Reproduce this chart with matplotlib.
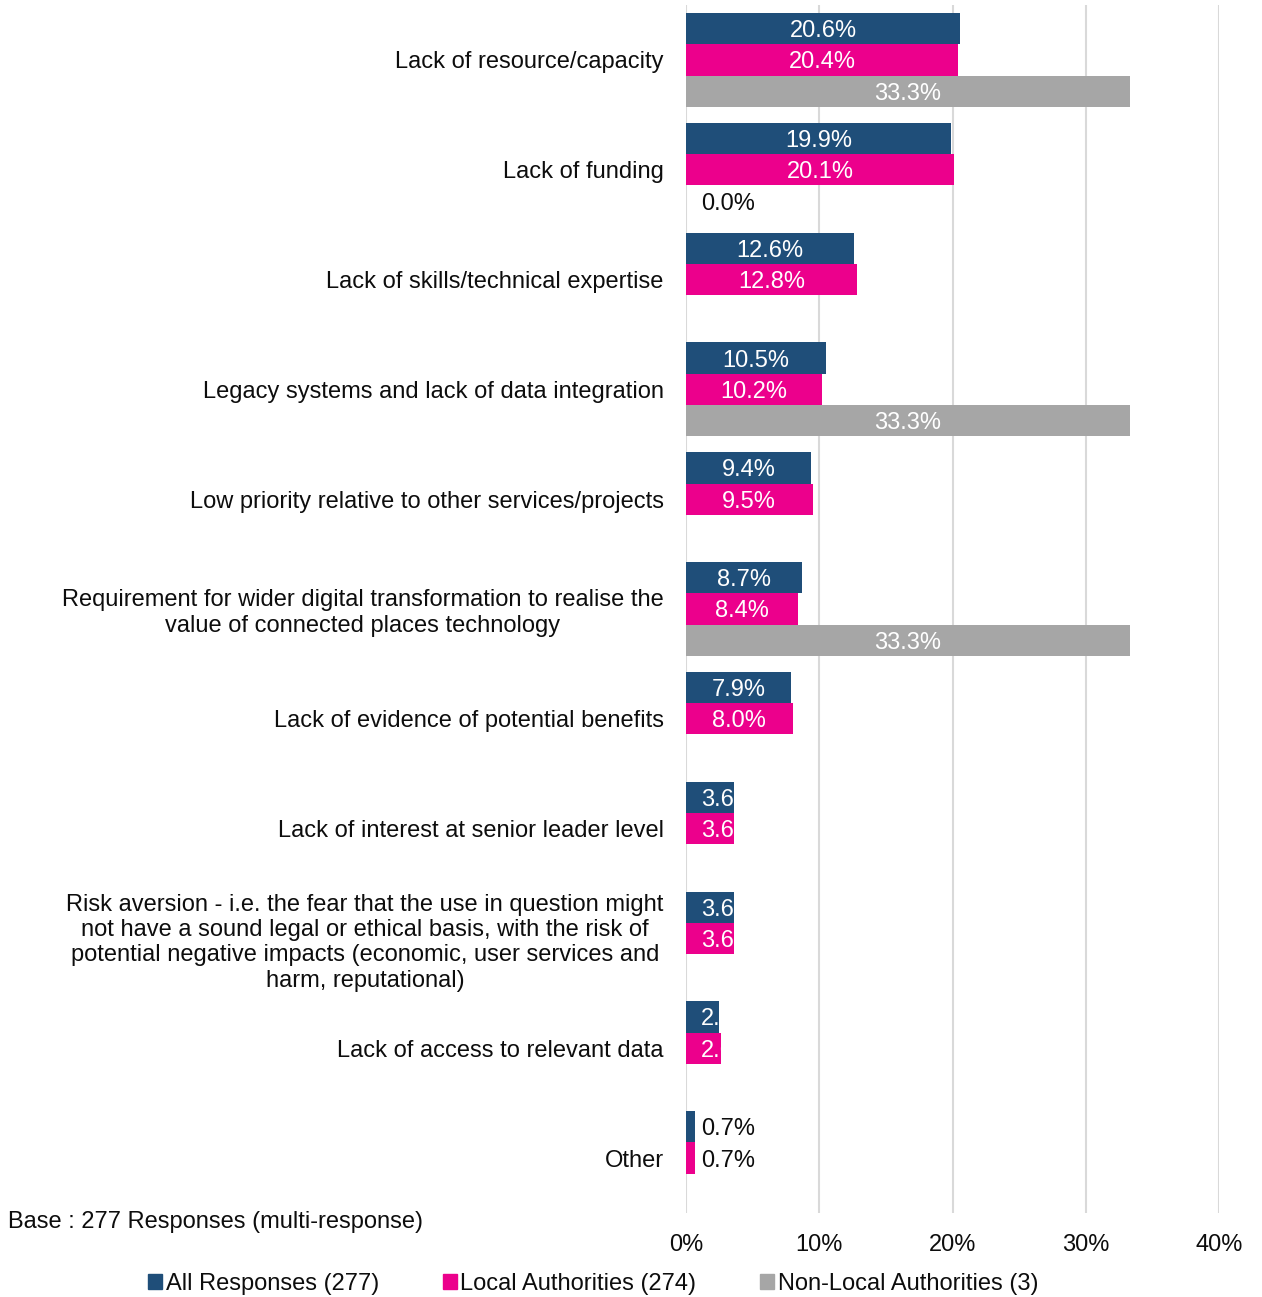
import numpy as np
import matplotlib.pyplot as plt
from matplotlib.patches import Patch

plt.rcParams['font.family'] = ['Liberation Sans', 'DejaVu Sans']

categories = [
    "Lack of resource/capacity",
    "Lack of funding",
    "Lack of skills/technical expertise",
    "Legacy systems and lack of data integration",
    "Low priority relative to other services/projects",
    "Requirement for wider digital transformation to realise the\nvalue of connected places technology",
    "Lack of evidence of potential benefits",
    "Lack of interest at senior leader level",
    "Risk aversion - i.e. the fear that the use in question might\nnot have a sound legal or ethical basis, with the risk of\npotential negative impacts (economic, user services and\nharm, reputational)",
    "Lack of access to relevant data",
    "Other",
]
all_resp = [20.6, 19.9, 12.6, 10.5, 9.4, 8.7, 7.9, 3.6, 3.6, 2.5, 0.7]
local_auth = [20.4, 20.1, 12.8, 10.2, 9.5, 8.4, 8.0, 3.6, 3.6, 2.6, 0.7]
non_local = [33.3, 0.0, np.nan, 33.3, np.nan, 33.3, np.nan, np.nan, np.nan, np.nan, np.nan]

series_names = ["All Responses (277)", "Local Authorities (274)", "Non-Local Authorities (3)"]
colors = ["#1F4E79", "#EC008C", "#A6A6A6"]
xticks = [0, 10, 20, 30, 40]
txt = '#0d0d0d'
fs = 17

fig = plt.figure(figsize=(12.62, 12.97), dpi=100)
ax = fig.add_axes([686 / 1262, 1 - 1213 / 1297, (1219 - 686) / 1262, (1213 - 5) / 1297])

y = np.arange(len(categories))
h = 0.285
for i, (vals, col) in enumerate(zip([all_resp, local_auth, non_local], colors)):
    pos = y + (i - 1) * h
    bars = ax.barh(pos, vals, height=h, color=col, zorder=2)
    for bar, v, p in zip(bars, vals, pos):
        if np.isnan(v):
            continue
        lbl = f"{v:.1f}%"
        if v >= 5:
            ax.text(v / 2, p, lbl, ha='center', va='center_baseline', color='white',
                    fontsize=fs, zorder=3)
        elif v >= 1:
            # short bars: label starts near the axis and is cut at the bar end
            t = ax.text(1.1, p, lbl, ha='left', va='center_baseline', color='white',
                        fontsize=fs, zorder=3)
            t.set_clip_path(bar)
        else:
            ax.text(1.1, p, lbl, ha='left', va='center_baseline', color=txt,
                    fontsize=fs, zorder=3)

ax.set_ylim(len(categories) - 0.5, -0.5)
ax.set_xlim(0, 40)
ax.set_yticks(y)
ax.set_yticklabels(categories, fontsize=fs, color=txt, multialignment='center')
ax.set_xticks(xticks)
ax.set_xticklabels([f"{t}%" for t in xticks], fontsize=fs, color=txt)
ax.tick_params(axis='y', length=0, pad=16)
ax.tick_params(axis='x', length=0, pad=15)
ax.grid(axis='x', color='#D9D9D9', linewidth=1.5, zorder=0)
for s in ax.spines.values():
    s.set_visible(False)

fig.text(8 / 1262, 1 - 1222 / 1297, "Base : 277 Responses (multi-response)",
         fontsize=fs, color=txt, va='center', ha='left')

handles = [Patch(color=c) for c in colors]
fig.legend(handles, series_names, loc='center', bbox_to_anchor=(593 / 1262, 1 - 1284 / 1297),
           ncol=3, frameon=False, fontsize=fs, handlelength=0.6, handleheight=0.6,
           handletextpad=0.15, columnspacing=2.7, labelcolor=txt)

fig.savefig("out.png", dpi=100)
